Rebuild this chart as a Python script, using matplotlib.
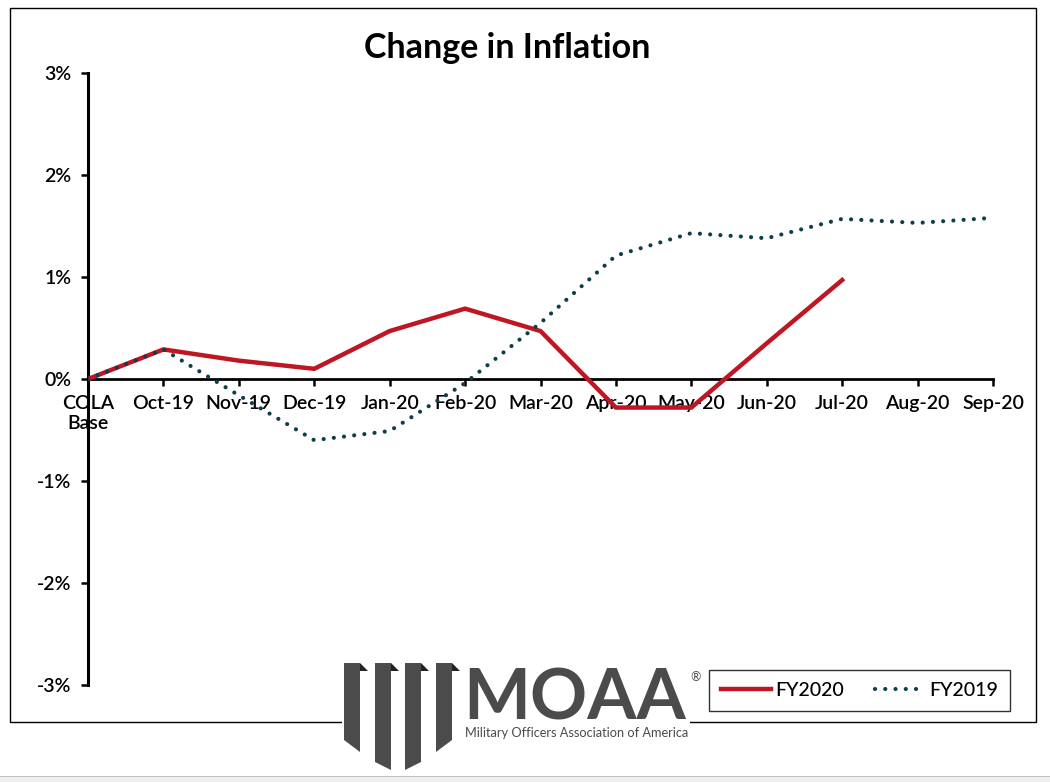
import matplotlib
matplotlib.use("Agg")
import matplotlib.pyplot as plt
from matplotlib.patches import Rectangle, Polygon
from matplotlib.lines import Line2D
from matplotlib.ticker import FuncFormatter

categories = ['COLA\nBase', 'Oct-19', 'Nov-19', 'Dec-19', 'Jan-20', 'Feb-20', 'Mar-20',
              'Apr-20', 'May-20', 'Jun-20', 'Jul-20', 'Aug-20', 'Sep-20']
fy2020 = [0.0, 0.29, 0.18, 0.10, 0.47, 0.69, 0.47, -0.28, -0.28, 0.35, 0.97]
fy2019 = [0.0, 0.29, -0.16, -0.60, -0.51, -0.04, 0.55, 1.21, 1.43, 1.38, 1.57, 1.53, 1.58]
yticks = [-3, -2, -1, 0, 1, 2, 3]

plt.rcParams['font.family'] = ['Lato', 'DejaVu Sans']

W, H = 1050, 782
fig = plt.figure(figsize=(W / 100, H / 100), dpi=100)

def fx(x):
    return x / W

def fy(y):
    return 1 - y / H

ax = fig.add_axes([fx(88), fy(685), fx(993) - fx(88), fy(73) - fy(685)])
ax.set_xlim(0, len(categories) - 1)
ax.set_ylim(-3, 3)

RED = '#BE1622'
TEAL = '#0F3D4A'
ax.plot(range(len(fy2020)), fy2020, color=RED, lw=3.2, zorder=4,
        solid_joinstyle='miter', label='FY2020')
ax.plot(range(len(fy2019)), fy2019, color=TEAL, lw=3.0, zorder=5,
        linestyle=(0, (0.01, 2.45)), dash_capstyle='round', label='FY2019')

for s in ['top', 'right']:
    ax.spines[s].set_visible(False)
ax.spines['left'].set_linewidth(2.2)
ax.spines['bottom'].set_linewidth(2.0)
ax.spines['bottom'].set_position(('data', 0))

ax.set_xticks(range(len(categories)))
ax.set_xticklabels(categories, fontsize=14, linespacing=1.2, fontweight='semibold')
ax.set_yticks(yticks)
ax.yaxis.set_major_formatter(FuncFormatter(lambda v, p: f'{v:.0f}%'))
for lab in ax.get_yticklabels():
    lab.set_fontweight('semibold')
ax.tick_params(axis='y', direction='out', length=5, width=1.8, pad=7, labelsize=14)
ax.tick_params(axis='x', direction='out', length=5, width=1.8, pad=6.5, labelsize=14)

fig.text(fx(507), fy(48), 'Change in Inflation', ha='center', va='center',
         fontsize=24.5, fontweight='bold', color='black')

# outer chart frame
fig.patches.append(Rectangle((fx(10), fy(722)), fx(1036) - fx(10), fy(8) - fy(722),
                             transform=fig.transFigure, fill=False, ec='black', lw=1.0, zorder=1))
# bottom grey strip
fig.patches.append(Rectangle((0, 0), 1, fy(777), transform=fig.transFigure,
                             fc='#eeeeee', ec='none', zorder=1))
fig.lines.append(Line2D([0, 1], [fy(777), fy(777)], transform=fig.transFigure,
                        color='#b5b5b5', lw=1.2, zorder=1))

# logo
fig.patches.append(Rectangle((fx(342), fy(775)), fx(690) - fx(342), fy(655) - fy(775),
                             transform=fig.transFigure, fc='white', ec='none', zorder=2))
GREY = '#4b4b4b'
banners = [(344, 360, 740, 752), (375, 391, 762, 770), (405, 421, 770, 762), (436, 452, 752, 740)]
for x0, x1, yl, yr in banners:
    pts = [(fx(x0), fy(663)), (fx(x1), fy(663)), (fx(x1), fy(yr)), (fx(x0), fy(yl))]
    fig.patches.append(Polygon(pts, closed=True, transform=fig.transFigure,
                               fc=GREY, ec='none', zorder=3))
    tri = [(fx(x1), fy(663)), (fx(x1 + 8), fy(671)), (fx(x1), fy(671))]
    fig.patches.append(Polygon(tri, closed=True, transform=fig.transFigure,
                               fc='#222222', ec='none', zorder=3))
fig.text(fx(463), fy(719), 'MOAA', ha='left', va='baseline', fontsize=51,
         fontweight='bold', color=GREY, zorder=3)
fig.text(fx(690), fy(677), '®', ha='left', va='center', fontsize=9, color=GREY, zorder=3)
fig.text(fx(465), fy(733), 'Military Officers Association of America', ha='left', va='center',
         fontsize=9.2, color=GREY, zorder=3,
         family=['Liberation Sans Narrow', 'Lato', 'DejaVu Sans'])

leg = fig.legend(handles=ax.get_lines(), loc='center',
                 bbox_to_anchor=(fx((707 + 1012) / 2), fy((668 + 713) / 2)),
                 ncol=2, fontsize=14, frameon=True, fancybox=False, shadow=False,
                 handlelength=2.6, handletextpad=0.2, columnspacing=1.6,
                 borderpad=0.62, borderaxespad=0, edgecolor='black')
leg.get_frame().set_linewidth(1.0)
for t in leg.get_texts():
    t.set_fontweight('medium')

fig.savefig('out.png', dpi=100, facecolor='white')
